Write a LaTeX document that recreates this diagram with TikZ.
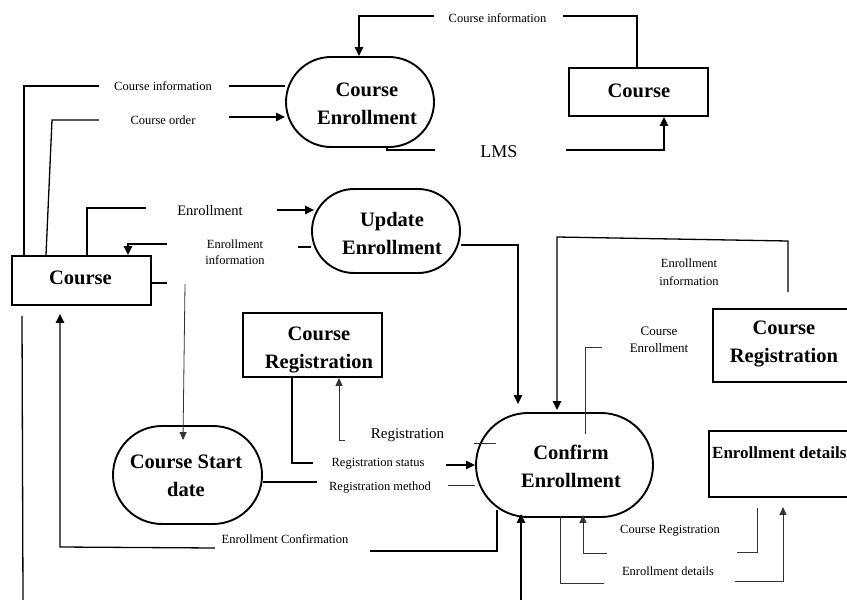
\documentclass[tikz,border=0pt]{standalone}
\usepackage{fontspec}
\setmainfont{Liberation Serif}
\usetikzlibrary{arrows.meta}
\begin{document}
\begin{tikzpicture}[x=1pt,y=-1pt,
  flow/.style={line width=1.3pt},
  thinflow/.style={line width=0.8pt, black!80},
  arr/.style={-{Triangle[length=9pt,width=8.5pt]}},
  sarr/.style={-{Triangle[length=8pt,width=7pt]}},
  outline/.style={draw, line width=1.9pt, inner sep=0},
  big/.style={font=\fontsize{20.5}{28}\selectfont\bfseries, align=center, inner sep=0},
  lbl/.style={font=\fontsize{12.5}{16}\selectfont, align=center, inner sep=0},
]
\useasboundingbox[fill=white] (0,0) rectangle (847,600);

% processes (rounded ends) and stores (boxes)
\node[outline, rounded corners=45pt, minimum width=148pt, minimum height=90pt] (ce) at (360,102) {};
\node[big] (cet) at (367,104) {Course\\Enrollment};
\node[outline, rounded corners=42pt, minimum width=148pt, minimum height=84pt] (ue) at (386,231) {};
\node[big] (uet) at (392,233) {Update\\Enrollment};
\node[outline, rounded corners=49pt, minimum width=149pt, minimum height=98pt] (csd) at (187.5,475) {};
\node[big] (csdt) at (186,476) {Course Start\\date};
\node[outline, rounded corners=52pt, minimum width=177pt, minimum height=104pt] (cfe) at (564.5,465) {};
\node[big] (cfet) at (571,466) {Confirm\\Enrollment};

\node[outline, minimum width=139pt, minimum height=49pt] (courseL) at (81.5,280.5) {};
\node[big] (courseLt) at (80.5,278) {Course};
\node[outline, minimum width=139pt, minimum height=48pt] (courseR) at (638.5,92) {};
\node[big] (courseRt) at (639,91) {Course};
\node[outline, minimum width=139pt, minimum height=64pt] (cregM) at (312.5,345) {};
\node[big] (cregMt) at (319,350) {Course\\Registration};
\node[outline, minimum width=145pt, minimum height=73pt] (cregR) at (785.5,345.5) {};
\node[big] (cregRt) at (784,344) {Course\\Registration};
\node[outline, minimum width=149pt, minimum height=66pt] (edet) at (783.5,464) {};
\node[font=\fontsize{17}{20}\selectfont\bfseries, inner sep=0, anchor=west] (edett) at (712,453) {Enrollment details};

% flow labels
\node[lbl] (lci1) at (163,86) {Course information};
\node[lbl] (lco) at (163,120) {Course order};
\node[lbl] (lci2) at (497.5,18) {Course information};
\node[font=\fontsize{18}{20}\selectfont, inner sep=0] (llms) at (499,152) {LMS};
\node[font=\fontsize{14.5}{16}\selectfont, inner sep=0] (lenr) at (210,211) {Enrollment};
\node[lbl] (lei1) at (235,252) {Enrollment\\information};
\node[lbl, font=\fontsize{12.5}{18}\selectfont] (lei2) at (689,272) {Enrollment\\information};
\node[lbl, font=\fontsize{13}{17}\selectfont] (lcen) at (659,340) {Course\\Enrollment};
\node[font=\fontsize{15}{17}\selectfont, inner sep=0] (lreg) at (407.5,435) {Registration};
\node[lbl] (lrs) at (378,464) {Registration status};
\node[lbl] (lrm) at (380,488) {Registration method};
\node[lbl] (lec) at (285,539) {Enrollment Confirmation};
\node[lbl] (lcr) at (670,531) {Course Registration};
\node[lbl] (led) at (668,571) {Enrollment details};

% Course information: Course Enrollment -> Course
\draw[flow] ([yshift=16pt]ce.west) -- (229,86);
\draw[flow] (99,86) -| ([xshift=-57.5pt]courseL.north);
% Course order: Course -> Course Enrollment
\draw[flow] ([xshift=-35.5pt]courseL.north) -- (52,120) -- (99,120);
\draw[flow,arr] (229,117) -- ([yshift=-15pt]ce.west);
% Course information: Course -> Course Enrollment
\draw[flow] ([xshift=-1.5pt]courseR.north) |- (563,16);
\draw[flow,arr] (434,16) -| ([xshift=-1pt]ce.north);
% LMS
\draw[flow] ([xshift=27pt]ce.south) |- (435,150);
\draw[flow,arr] (566,150) -| ([xshift=25.5pt]courseR.south);
% Enrollment: Course -> Update Enrollment
\draw[flow] ([xshift=5.5pt]courseL.north) |- (146,208);
\draw[flow,arr] (277,210) -- ([xshift=3pt,yshift=21pt]ue.west);
% Enrollment information: Update Enrollment -> Course
\draw[flow] ([yshift=-16pt]ue.west) -- (298,247);
\draw[flow,arr] (167,244) -| ([xshift=46.5pt]courseL.north);
% Course -> Course Start date
\draw[flow] ([yshift=-2.5pt]courseL.east) -- (167,283);
\draw[thinflow,sarr] (185,284) -- ([xshift=-4.5pt,yshift=-15pt]csd.north);
% Update Enrollment -> Confirm Enrollment
\draw[flow,arr] ([yshift=-14pt]ue.east) -| ([xshift=-46.5pt,yshift=8pt]cfe.north);
% Enrollment information: Course Registration -> Confirm Enrollment
\draw[flow,arr] ([xshift=2.5pt,yshift=16pt]cregR.north) -- (788,241) -- (557,237)
  -- ([xshift=-7.5pt,yshift=2pt]cfe.north);
% Course Enrollment
\draw[thinflow] (602,347) -| ([xshift=20.5pt,yshift=-22pt]cfe.north);
% Registration status
\draw[flow] ([xshift=-20.5pt]cregM.south) |- (313,463);
\draw[flow,arr] (446,465) -- (cfe.west);
% Registration
\draw[thinflow,sarr] (345,440) -| ([xshift=26.5pt]cregM.south);
\draw[thinflow] ([xshift=-1pt,yshift=22pt]cfe.west) -- ([xshift=21pt,yshift=22pt]cfe.west);
% Registration method
\draw[flow] ([yshift=-7pt]csd.east) -- (317,482);
\draw[thinflow] (448,485) -- ([yshift=-20pt]cfe.west);
% Enrollment Confirmation: Confirm Enrollment -> Course
\draw[flow,arr] (215,548) -- (60,547) -- ([xshift=-21.5pt,yshift=-8pt]courseL.south);
\draw[flow] (370,551) -| ([xshift=-67.5pt,yshift=8pt]cfe.south);
% long lines at the bottom
\draw[flow] ([xshift=-59.5pt,yshift=-10pt]courseL.south) -- (23,600);
\draw[flow,arr] (521,600) -- ([xshift=-43.5pt,yshift=4pt]cfe.south);
% Course Registration: Enrollment details -> Confirm Enrollment
\draw[thinflow,sarr] (607,553) -| ([xshift=18.5pt,yshift=3pt]cfe.south);
\draw[thinflow] (737,552) -| ([xshift=-26.5pt,yshift=-10pt]edet.south);
% Enrollment details: Confirm Enrollment -> Enrollment details
\draw[thinflow] ([xshift=-4.5pt,yshift=2pt]cfe.south) |- (604,583);
\draw[thinflow,sarr] (735,581) -| ([xshift=-0.5pt,yshift=-9pt]edet.south);
\end{tikzpicture}
\end{document}
